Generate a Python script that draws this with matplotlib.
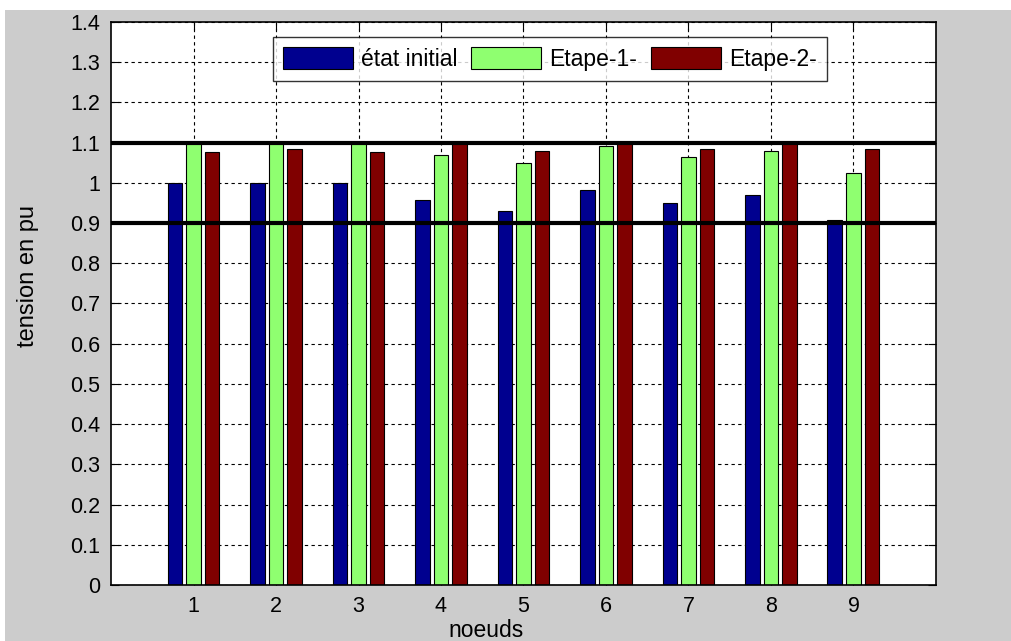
import matplotlib.pyplot as plt
import matplotlib.patches as mpatches
import numpy as np

plt.rcParams['font.family'] = ['Liberation Sans', 'DejaVu Sans']

# Tension aux noeuds (pu)
noeuds = [1, 2, 3, 4, 5, 6, 7, 8, 9]
etat_initial = [1.0, 1.0, 1.0, 0.958, 0.931, 0.982, 0.951, 0.971, 0.907]
etape_1 = [1.1, 1.1, 1.1, 1.069, 1.049, 1.092, 1.065, 1.080, 1.025]
etape_2 = [1.077, 1.085, 1.077, 1.1, 1.080, 1.1, 1.085, 1.1, 1.085]
series = ['état initial', 'Etape-1-', 'Etape-2-']
couleurs = [(0, 0, 0.5625), (0.5625, 1, 0.4375), (0.5, 0, 0)]
limites = [0.9, 1.1]

fig = plt.figure(figsize=(10.11, 6.41), dpi=100, facecolor='white')
# fond gris de la fenetre
fig.patches.append(mpatches.Rectangle((5 / 1011, 0), 1, 1 - 10 / 641,
                                      transform=fig.transFigure,
                                      facecolor='#cccccc', edgecolor='none',
                                      zorder=-10))
ax = fig.add_axes([0.1098, 0.0874, 0.9258 - 0.1098, 0.9657 - 0.0874])
ax.set_zorder(1)
ax.set_facecolor('white')

x = np.array(noeuds)
w = 0.18
dx = 0.225
for k, vals in enumerate([etat_initial, etape_1, etape_2]):
    ax.bar(x + (k - 1) * dx, vals, w, color=couleurs[k], edgecolor='black',
           linewidth=0.8, label=series[k], zorder=2)

for v in limites:
    ax.axhline(v, color='black', linewidth=3, zorder=4)

ax.set_xlim(0, 10)
ax.set_ylim(0, 1.4)
ax.set_xticks(noeuds)
yt = np.round(np.arange(0, 1.41, 0.1), 1)
ax.set_yticks(yt)
ax.set_yticklabels(['%g' % v for v in yt])
ax.tick_params(direction='in', length=6, top=True, right=True,
               labelsize=15.5, color='black', pad=8)
ax.set_axisbelow(True)
ax.grid(True, color='black', linestyle=(0, (3, 3)), linewidth=0.8)
for s in ax.spines.values():
    s.set_linewidth(1.2)

ax.set_ylabel('tension en pu', fontsize=17)
ax.yaxis.set_label_coords(-0.087, 0.549)
fig.text(486 / 1011, 1 - 637 / 641, 'noeuds', fontsize=16.5,
         ha='center', va='baseline')

leg = ax.legend(loc='upper center', bbox_to_anchor=(0.532, 0.973), ncol=3,
                fontsize=16.5, frameon=True, fancybox=False, handlelength=3.05,
                handleheight=1.05, columnspacing=0.6, handletextpad=0.35,
                borderpad=0.45, borderaxespad=0)
leg.get_frame().set_edgecolor('black')
leg.get_frame().set_linewidth(1.0)

fig.savefig('out.png', dpi=100, facecolor=fig.get_facecolor())
